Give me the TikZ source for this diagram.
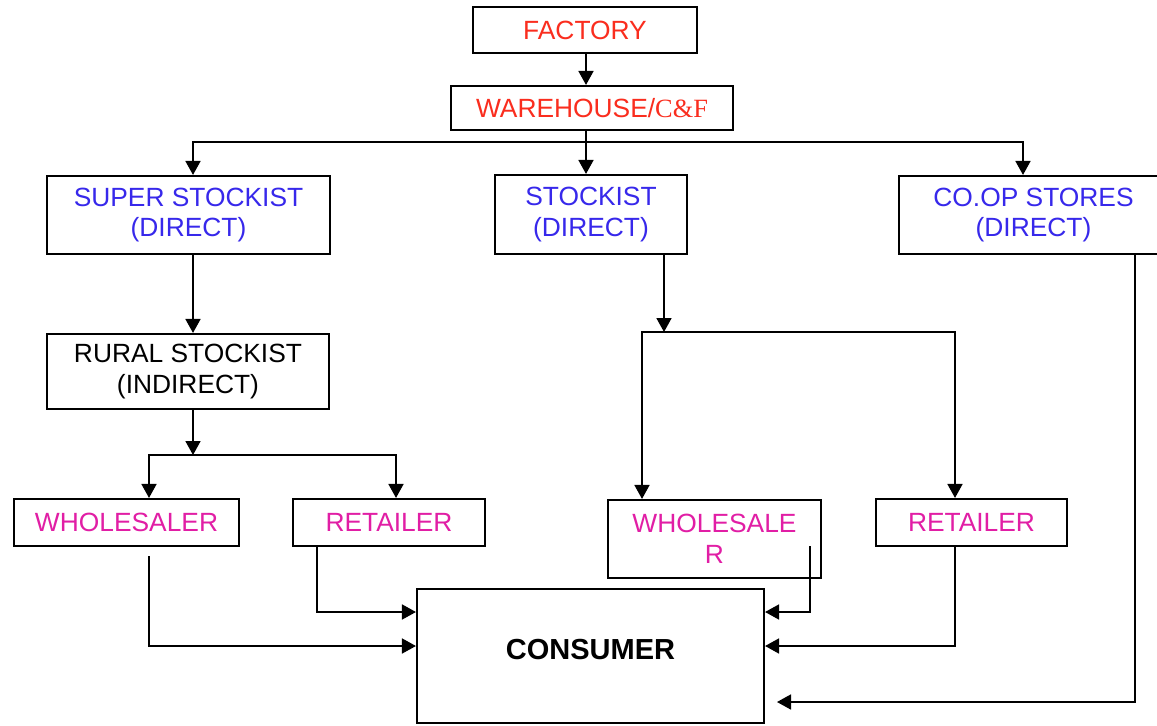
\documentclass[tikz,border=0pt]{standalone}
\usepackage{fontspec}
\setmainfont{Liberation Sans}
\newfontfamily\serifcf{Liberation Serif}
\usetikzlibrary{positioning, arrows.meta, calc}
\definecolor{rosu}{RGB}{250,45,30}
\definecolor{albastru}{RGB}{55,40,235}
\definecolor{magenta}{RGB}{225,30,165}

\begin{document}
\begin{tikzpicture}[
        x=0.2mm, y=-0.2mm,
        font=\fontsize{15}{17.6}\selectfont,
        cutie/.style={draw, line width=1.2pt, align=center, inner sep=0pt, fill=white},
        sageata/.style={-{Triangle[length=2.8mm, width=3mm]}, line width=1pt},
        linie/.style={line width=1pt},
    ]
        \useasboundingbox (0,0) rectangle (1157,725);
        \node[cutie, text=rosu, minimum width=44.8mm, minimum height=9.2mm] (factory) at (585,30)
            {FACTORY};
        \node[cutie, text=rosu, minimum width=56.4mm, minimum height=8.8mm] (warehouse) at (592,108)
            {WAREHOUSE/{\serifcf C\&F}};
        \node[cutie, text=albastru, minimum width=56.6mm, minimum height=15.6mm] (super) at (188.5,215)
            {SUPER STOCKIST\\(DIRECT)};
        \node[cutie, text=albastru, minimum width=38.4mm, minimum height=15.8mm] (stockist) at (591,214.5)
            {STOCKIST\\(DIRECT)};
        \node[cutie, text=albastru, minimum width=53.8mm, minimum height=15.6mm] (coop) at (1033.5,215)
            {CO.OP STORES\\(DIRECT)};
        \node[cutie, minimum width=56.4mm, minimum height=15mm] (rural) at (188,371.5)
            {RURAL STOCKIST\\(INDIRECT)};
        \node[cutie, text=magenta, minimum width=45mm, minimum height=9.4mm] (wholL) at (126.5,522.5)
            {WHOLESALER};
        \node[cutie, text=magenta, minimum width=38.4mm, minimum height=9.4mm] (retL) at (389,522.5)
            {RETAILER};
        \node[cutie, text=magenta, minimum width=42.6mm, minimum height=15.6mm] (wholR) at (714.5,539)
            {WHOLESALE\\R};
        \node[cutie, text=magenta, minimum width=38.2mm, minimum height=9.4mm] (retR) at (971.5,522.5)
            {RETAILER};
        \node[cutie, minimum width=69.4mm, minimum height=26.8mm, text depth=2.8mm,
            font=\fontsize{16.5}{19}\selectfont\bfseries] (consumer) at (590.5,656)
            {CONSUMER};
        \coordinate (j1) at (586,142);
        \coordinate (j2) at (193,455);
        \coordinate (j3) at (664,332);
        \coordinate (tip) at (777,702);
        % sus
        \draw[sageata] (factory.south -| j1) -- (warehouse.north -| j1);
        \draw[linie] (warehouse.south -| j1) -- (j1);
        \draw[sageata] (j1) -| ([xshift=0.9mm]super.north);
        \draw[sageata] (j1) -- (stockist.north -| j1);
        \draw[sageata] (j1) -| ([xshift=-2.1mm]coop.north);
        % ramura stanga
        \draw[sageata] (super.south -| j2) -- (rural.north -| j2);
        \draw[sageata] (rural.south -| j2) -- (j2);
        \draw[sageata] (j2) -| ([xshift=4.5mm]wholL.north);
        \draw[sageata] (j2) -| ([xshift=1.4mm]retL.north);
        % ramura din mijloc
        \draw[sageata] (stockist.south -| j3) -- (j3);
        \draw[sageata] (j3) -| ([xshift=-14.5mm]wholR.north);
        \draw[sageata] (j3) -| ([xshift=-3.3mm]retR.north);
        % catre consumator
        \draw[sageata] ([xshift=4.5mm, yshift=-1.8mm]wholL.south) |- ([yshift=2mm]consumer.west);
        \draw[sageata] ([xshift=-14.4mm]retL.south) |- ([yshift=8.8mm]consumer.west);
        \draw[sageata] ([xshift=19.1mm, yshift=-1.4mm]wholR.center) |- ([yshift=8.8mm]consumer.east);
        \draw[sageata] ([xshift=-3.3mm]retR.south) |- ([yshift=2mm]consumer.east);
        \draw[sageata] ([xshift=20.3mm]coop.south) |- (tip);
    \end{tikzpicture}
\end{document}
